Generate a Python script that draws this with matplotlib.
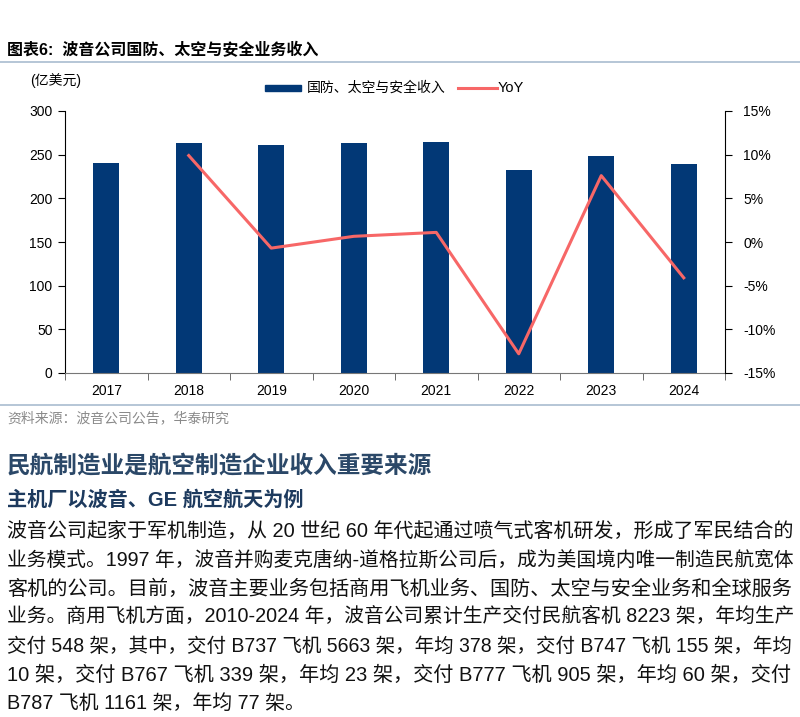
import matplotlib
matplotlib.use("Agg")
import matplotlib.pyplot as plt
from matplotlib.ticker import FixedLocator, FuncFormatter
from matplotlib.patches import Rectangle
from matplotlib.lines import Line2D
import numpy as np

plt.rcParams['font.family'] = ['Liberation Sans', 'Noto Sans CJK SC', 'DejaVu Sans']

# ---- data ----
years = ["2017", "2018", "2019", "2020", "2021", "2022", "2023", "2024"]
revenue = [240, 263, 261, 263, 265, 232, 249, 239]          # 亿美元
yoy = [np.nan, 9.9, -0.7, 0.65, 1.1, -12.8, 7.6, -4.1]     # %
left_ticks = [0, 50, 100, 150, 200, 250, 300]
right_ticks = [-15, -10, -5, 0, 5, 10, 15]

title = "图表6:  波音公司国防、太空与安全业务收入"
unit_label = "(亿美元)"
legend_bar = "国防、太空与安全收入"
legend_line = "YoY"
source = "资料来源：波音公司公告，华泰研究"
heading = "民航制造业是航空制造企业收入重要来源"
subheading = "主机厂以波音、GE 航空航天为例"
body_lines = [
    "波音公司起家于军机制造，从 20 世纪 60 年代起通过喷气式客机研发，形成了军民结合的",
    "业务模式。1997 年，波音并购麦克唐纳-道格拉斯公司后，成为美国境内唯一制造民航宽体",
    "客机的公司。目前，波音主要业务包括商用飞机业务、国防、太空与安全业务和全球服务",
    "业务。商用飞机方面，2010-2024 年，波音公司累计生产交付民航客机 8223 架，年均生产",
    "交付 548 架，其中，交付 B737 飞机 5663 架，年均 378 架，交付 B747 飞机 155 架，年均",
    "10 架，交付 B767 飞机 339 架，年均 23 架，交付 B777 飞机 905 架，年均 60 架，交付",
    "B787 飞机 1161 架，年均 77 架。",
]

BAR = "#023876"
LINE = "#F76767"
W, H = 800, 717

fig = plt.figure(figsize=(W / 100, H / 100), dpi=100)

def fx(px):
    return px / W

def fy(py):
    return 1 - py / H

ax = fig.add_axes([fx(65), fy(373), fx(725 - 65), fy(111) - fy(373)])
x = np.arange(len(years))
ax.bar(x, revenue, width=0.32, color=BAR, zorder=2)
ax.set_xlim(-0.5, len(years) - 0.5)
ax.set_ylim(0, 300)
ax.yaxis.set_major_locator(FixedLocator(left_ticks))
ax.set_xticks(x)
ax.set_xticklabels(years, fontsize=10)
ax.xaxis.set_minor_locator(FixedLocator(np.arange(-0.5, len(years), 1.0)))
ax.tick_params(axis='x', which='major', length=0, pad=8)
ax.tick_params(axis='x', which='minor', length=5, direction='out', color='#555555')
ax.tick_params(axis='y', which='major', length=5, direction='out', labelsize=10, pad=4)
ax.spines['top'].set_visible(False)
ax.spines['right'].set_visible(False)
ax.spines['bottom'].set_color('#777777')
ax.spines['left'].set_color('#000000')

ax2 = ax.twinx()
ax2.plot(x, yoy, color=LINE, lw=2.2, zorder=3)
ax2.set_ylim(-15, 15)
ax2.yaxis.set_major_locator(FixedLocator(right_ticks))
ax2.yaxis.set_major_formatter(FuncFormatter(lambda v, p: f"{int(v)}%"))
ax2.tick_params(axis='y', length=5, direction='out', labelsize=10, pad=8)
for s in ['top', 'left', 'bottom']:
    ax2.spines[s].set_visible(False)
ax2.spines['right'].set_color('#000000')

# title and rules
fig.text(fx(7), fy(50), title, fontsize=11.5, fontweight='bold', va='center', ha='left')
fig.add_artist(Line2D([0, 1], [fy(62), fy(62)], color='#A9BCCF', lw=1.2))
fig.text(fx(30), fy(81), unit_label, fontsize=10, va='center', ha='left')

# legend (manual)
fig.add_artist(Rectangle((fx(265), fy(91)), fx(36), fy(85) - fy(91), color=BAR))
fig.text(fx(307), fy(88), legend_bar, fontsize=10, va='center', ha='left')
fig.add_artist(Line2D([fx(458), fx(497)], [fy(88), fy(88)], color=LINE, lw=2.2))
fig.text(fx(498), fy(88), legend_line, fontsize=10.5, va='center', ha='left')

# source
fig.add_artist(Line2D([0, 1], [fy(405), fy(405)], color='#A9BCCF', lw=1.2))
fig.text(fx(7), fy(418), source, fontsize=10, color='#8A8A8A', va='center', ha='left')

# heading / subheading
fig.text(fx(7), fy(466), heading, fontsize=17, color='#2B4868', fontweight='bold', va='center', ha='left')
fig.text(fx(7), fy(500), subheading, fontsize=14.5, color='#1D3A5E', fontweight='bold', va='center', ha='left')

# body paragraph, roughly justified by per-line size fitting
renderer = fig.canvas.get_renderer()
base = 14.3
ys = [531, 560, 589, 617, 646, 675, 703]
for i, (line, yy) in enumerate(zip(body_lines, ys)):
    t = fig.text(fx(7), fy(yy), line, fontsize=base, color='#111111', va='center', ha='left')
    if i < len(body_lines) - 1:
        w = t.get_window_extent(renderer).width
        t.set_fontsize(base * (793 - 7) / w)

fig.savefig("out.png", dpi=100)
